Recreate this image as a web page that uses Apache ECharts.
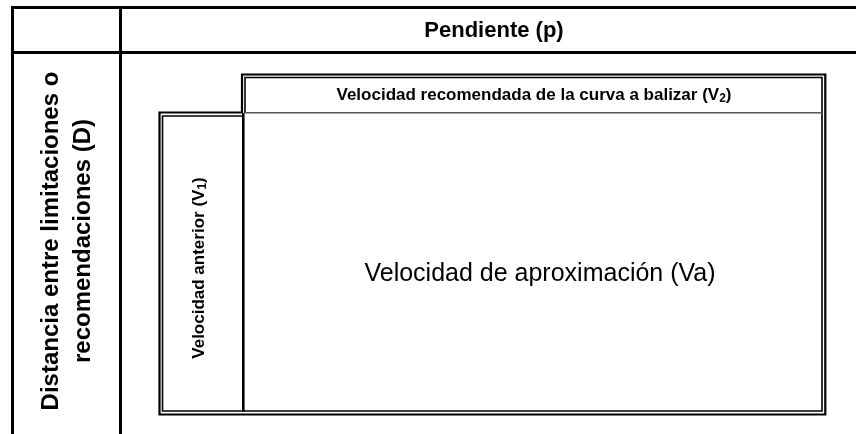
<!DOCTYPE html>
<html>
<head>
<meta charset="utf-8">
<script src="https://cdn.jsdelivr.net/npm/echarts@6/dist/echarts.min.js"></script>
<style>
html,body{margin:0;padding:0;background:#fff;}
#c{width:856px;height:434px;}
</style>
</head>
<body>
<div id="c"></div>
<script>
// Texts of the diagram
const headerTitle = ['Pendiente (p)'];
const rowTitle = ['Distancia entre limitaciones o', 'recomendaciones (D)'];
const v2Label = ['Velocidad recomendada de la curva a balizar (V', '2', ')'];
const v1Label = ['Velocidad anterior (V', '1', ')'];
const centerLabel = ['Velocidad de aproximación (Va)'];

const FONT = "'Liberation Sans', Arial, Helvetica, sans-serif";
const chart = echarts.init(document.getElementById('c'), null, {renderer: 'canvas'});

function line(x1, y1, x2, y2, w, color) {
  return {type: 'line', silent: true, shape: {x1, y1, x2, y2},
    style: {stroke: color || '#000', lineWidth: w}};
}
function poly(points, w, color) {
  return {type: 'polyline', silent: true, shape: {points},
    style: {stroke: color || '#000', lineWidth: w, fill: null, lineJoin: 'miter'}};
}
function txt(x, y, text, opts) {
  return Object.assign({type: 'text', silent: true, x, y,
    style: Object.assign({text, fill: '#000', align: 'center', verticalAlign: 'middle',
      textAlign: 'center', textVerticalAlign: 'middle'}, opts.style || {})},
    opts.rot ? {rotation: opts.rot} : {});
}
function subRich(parts, size) {
  return {
    text: '{n|' + parts[0] + '}{s|' + parts[1] + '}{n|' + parts[2] + '}',
    rich: {
      n: {font: 'bold ' + size + 'px ' + FONT, fill: '#000', verticalAlign: 'bottom', lineHeight: size + 4},
      s: {font: 'bold ' + Math.round(size * 0.72) + 'px ' + FONT, fill: '#000', verticalAlign: 'bottom', lineHeight: size + 4, padding: [0, 0, -1, 0]}
    }
  };
}

const elements = [
  // outer table
  line(11, 7.5, 856, 7.5, 3),
  line(11, 52.5, 856, 52.5, 3),
  line(12.5, 6, 12.5, 434, 3),
  line(120.5, 6, 120.5, 434, 3),
  // double-lined inner frame: outer stroke
  poly([[159.5, 112.5], [242, 112.5], [242, 74.5], [825.3, 74.5], [825.3, 414.5], [159.5, 414.5], [159.5, 111.5]], 2.2),
  // inner stroke
  poly([[243, 116], [162.5, 116], [162.5, 411], [822, 411], [822, 77.5], [245, 77.5], [245, 113]], 1.6),
  // divider between V1 column and main area
  line(243.3, 113, 243.3, 411.5, 2.6),
  // header bottom line (V2 header)
  line(245, 112.7, 822, 112.7, 1.6, '#555'),
  // texts
  txt(494, 31, headerTitle[0], {style: {font: 'bold 22px ' + FONT}}),
  txt(67, 241, rowTitle.join('\n'), {rot: Math.PI / 2, style: {font: 'bold 24px ' + FONT, lineHeight: 32}}),
  txt(534, 93.5, null, {style: subRich(v2Label, 17)}),
  txt(197, 268, null, {rot: Math.PI / 2, style: subRich(v1Label, 17)}),
  txt(540, 274, centerLabel[0], {style: {font: '25px ' + FONT}})
];

chart.setOption({
  backgroundColor: '#fff',
  animation: false,
  graphic: {elements}
});
</script>
</body>
</html>
